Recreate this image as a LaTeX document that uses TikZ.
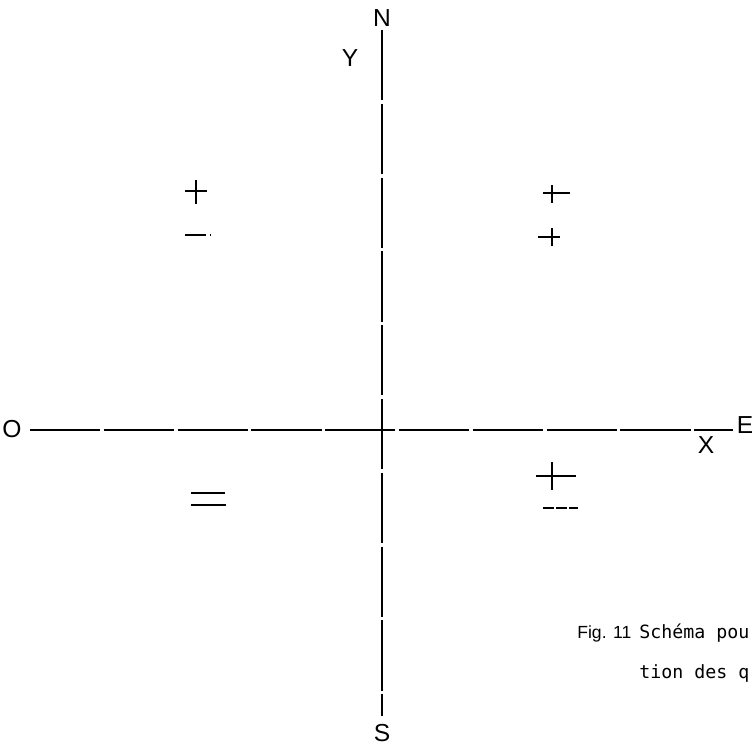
\documentclass[tikz,border=0pt]{standalone}
\usepackage{fontspec}
\setmainfont{Liberation Sans}
\newfontfamily\capfont{DejaVu Sans Mono}
\begin{document}
\begin{tikzpicture}[x=0.02cm,y=-0.02cm,
  axe/.style={line width=0.9pt,dash pattern=on 40pt off 2pt},
  signe/.style={line width=1.4pt},
  lettre/.style={font=\fontsize{14}{16}\selectfont,inner sep=0pt},
  legende/.style={anchor=base west,inner sep=0pt,font=\capfont\fontsize{10.4}{13}\selectfont}]

\useasboundingbox (0,0) rectangle (752,747);

% Axes
\coordinate (ouest) at (30,430);
\coordinate (est) at (733,430);
\coordinate (nord) at (382,30);
\coordinate (sud) at (382,716);

\draw[axe]
(ouest)
--
(est);

\draw[axe]
(nord)
--
(sud);

% Lettres
\node[lettre] (N) at (382,18) {N};
\node[lettre] (Y) at (350,58) {Y};
\node[lettre] (O) at (12,429) {O};
\node[lettre] (X) at (706,445) {X};
\node[lettre] (E) at (745,425) {E};
\node[lettre] (S) at (382,733) {S};

% Quadrant NO
\draw[signe]
(185,191) -- (207,191)
(196,180) -- (196,204);
\draw[signe,dash pattern=on 12pt off 2pt]
(185,235) -- (211,235);

% Quadrant NE
\draw[signe]
(543,193) -- (570,193)
(552,185) -- (552,203);
\draw[signe]
(538,237) -- (560,237)
(552,228) -- (552,246);

% Quadrant SO
\draw[signe]
(191,493) -- (225,493);
\draw[signe]
(191,505) -- (226,505);

% Quadrant SE
\draw[signe]
(536,476) -- (576,476)
(552,462) -- (552,490);
\draw[signe,dash pattern=on 6pt off 1.5pt]
(543,508) -- (578,508);

% Légende
\node[anchor=base west,inner sep=0pt,font=\fontsize{10}{12}\selectfont] (fig)
at (577,638) {Fig. 11};
\node[legende] (titre) at (639,638) {Schéma pou};
\node[legende] (suite) at (639,678) {tion des q};

\end{tikzpicture}
\end{document}
